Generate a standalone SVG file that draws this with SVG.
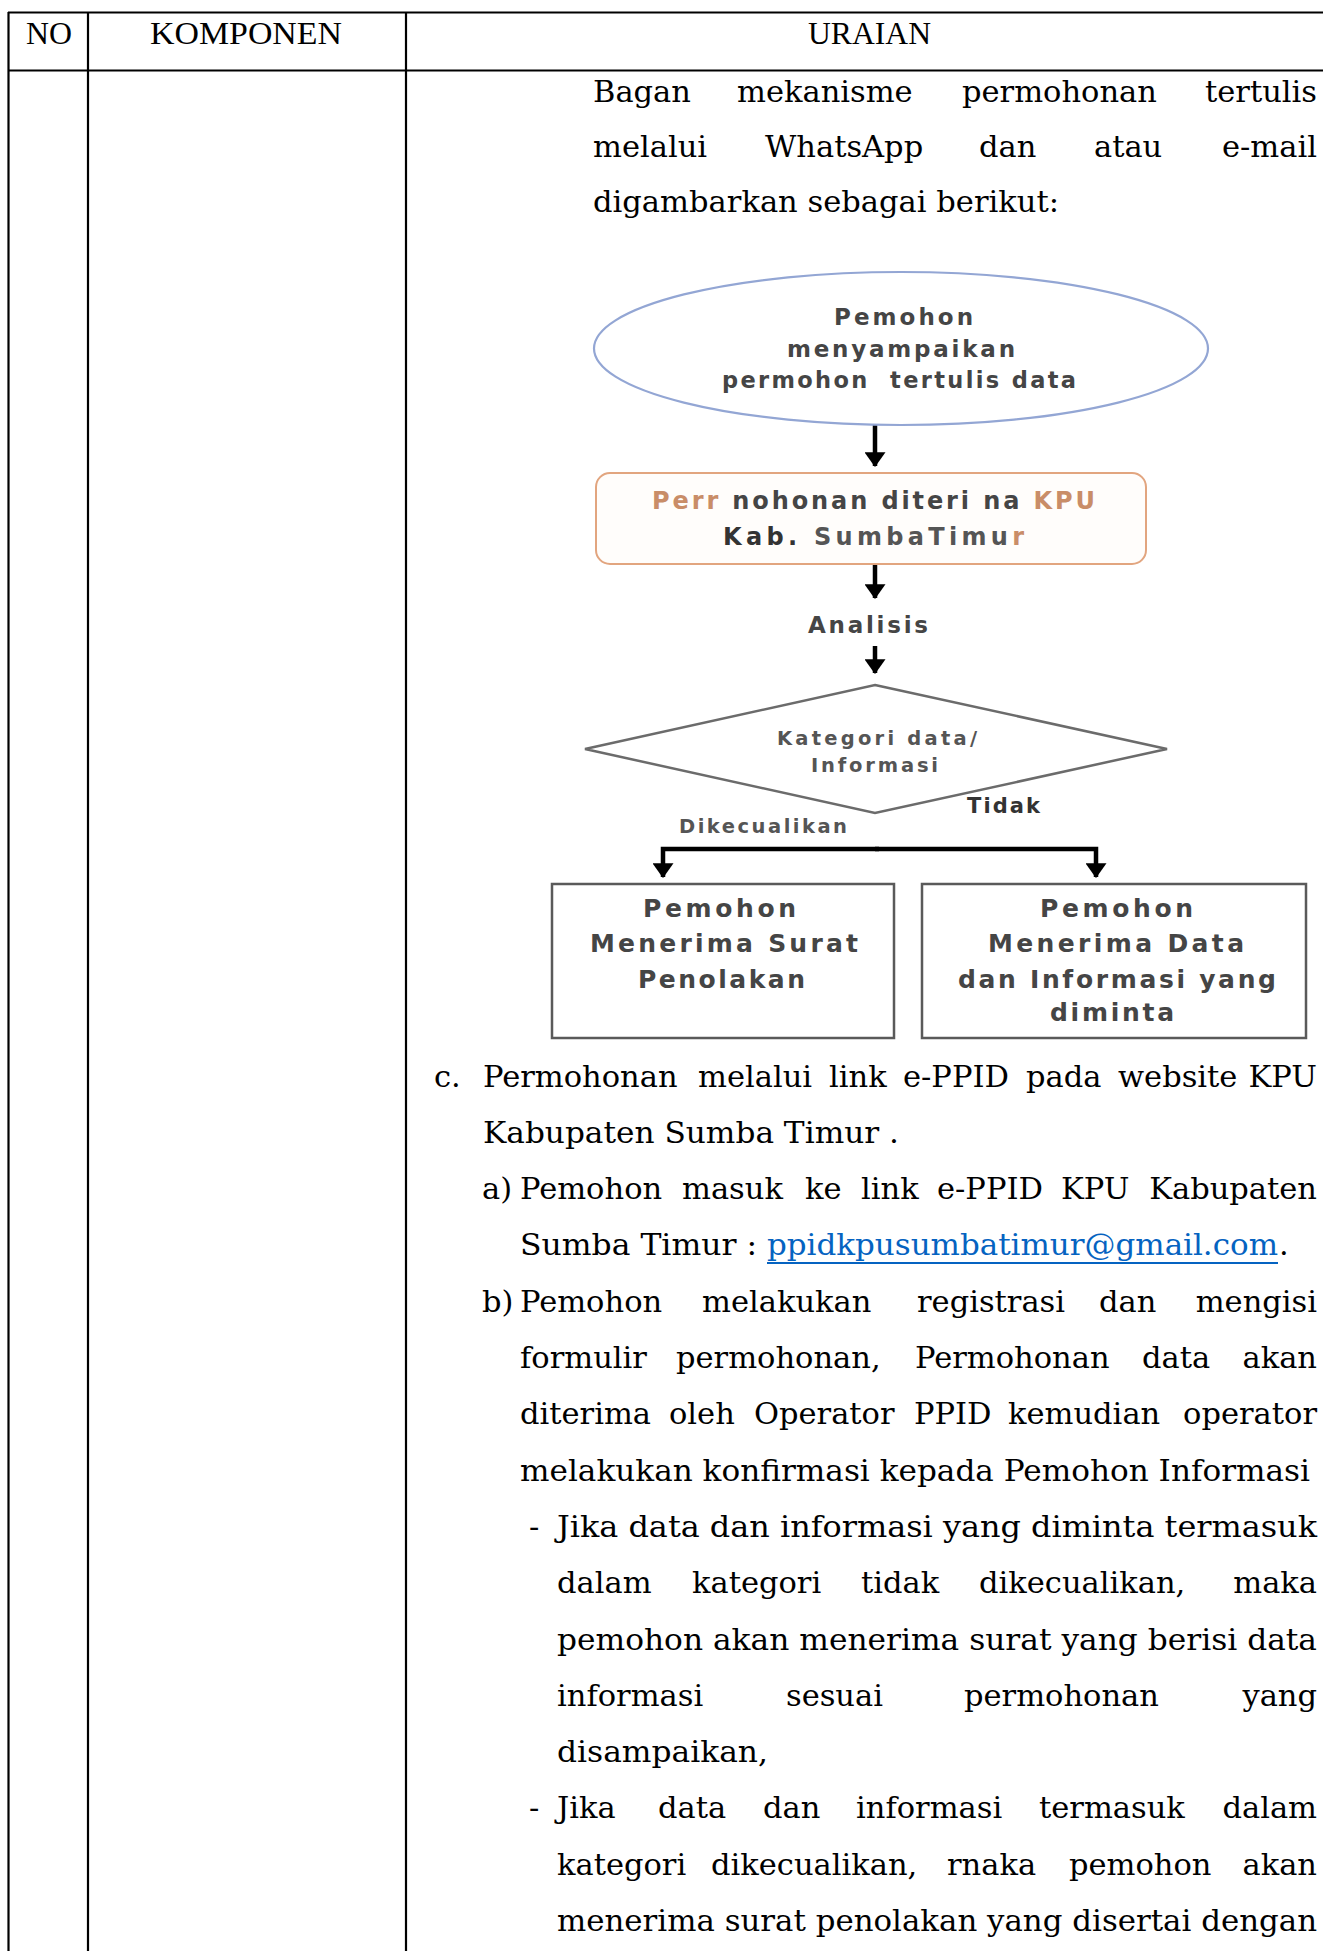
<svg xmlns="http://www.w3.org/2000/svg" width="1323" height="1951" viewBox="0 0 1323 1951">
<style>
.grid{stroke:#000;stroke-width:2.2;fill:none}
.hdr{font-family:"Liberation Serif","DejaVu Serif",serif;font-size:31px;fill:#000}
.body{font-family:"DejaVu Serif","Liberation Serif",serif;font-size:30.5px;fill:#000}
.end{text-anchor:end}
.link{fill:#0563c1}
.fc{font-family:"DejaVu Sans","Liberation Sans",sans-serif;font-weight:bold;fill:#454545}
.conn{stroke:#000;stroke-width:4.5;fill:none}
.box{fill:#fff;stroke:#5a5a5a;stroke-width:2.5}
</style>
<defs>
<marker id="ah" viewBox="0 0 14 20" refX="13" refY="10" markerWidth="15" markerHeight="21" markerUnits="userSpaceOnUse" orient="auto">
<path d="M0,0 L14,10 L0,20 Z" fill="#000"/>
</marker>
</defs>
<rect width="1323" height="1951" fill="#fff"/>

<g id="table">
<line class="grid" x1="8" y1="12.5" x2="1323" y2="12.5"/>
<line class="grid" x1="8" y1="70.5" x2="1323" y2="70.5"/>
<line class="grid" x1="8.5" y1="12" x2="8.5" y2="1951"/>
<line class="grid" x1="88" y1="12" x2="88" y2="1951"/>
<line class="grid" x1="406" y1="12" x2="406" y2="1951"/>
<text class="hdr" x="26" y="44" textLength="46" lengthAdjust="spacingAndGlyphs">NO</text>
<text class="hdr" x="150" y="44" textLength="192" lengthAdjust="spacingAndGlyphs">KOMPONEN</text>
<text class="hdr" x="808" y="44" textLength="123" lengthAdjust="spacingAndGlyphs">URAIAN</text>
</g>

<g id="intro">
<text class="body" y="102"><tspan x="593">Bagan</tspan><tspan x="737">mekanisme</tspan><tspan x="962">permohonan</tspan></text>
<text class="body end" x="1317" y="102">tertulis</text>
<text class="body" y="157"><tspan x="593">melalui</tspan><tspan x="765">WhatsApp</tspan><tspan x="979">dan</tspan><tspan x="1094">atau</tspan></text>
<text class="body end" x="1317" y="157">e-mail</text>
<text class="body" x="593" y="212" textLength="466" lengthAdjust="spacingAndGlyphs">digambarkan sebagai berikut:</text>
</g>

<g id="connectors">
<line class="conn" x1="875" y1="420" x2="875" y2="466" marker-end="url(#ah)"/>
<line class="conn" x1="875" y1="564" x2="875" y2="598" marker-end="url(#ah)"/>
<line class="conn" x1="875" y1="646" x2="875" y2="673" marker-end="url(#ah)"/>
<path class="conn" d="M879,849 H663 V877" marker-end="url(#ah)"/>
<path class="conn" d="M875,849 H1096 V877" marker-end="url(#ah)"/>
</g>

<g id="node-start">
<ellipse cx="901" cy="348.5" rx="307" ry="76.5" fill="#fff" stroke="#93a6d4" stroke-width="2.2"/>
<text class="fc" x="834" y="325" font-size="23" textLength="139" lengthAdjust="spacing">Pemohon</text>
<text class="fc" x="787" y="357" font-size="23" textLength="228" lengthAdjust="spacing">menyampaikan</text>
<text class="fc" x="722" y="388" font-size="22.5" textLength="354" lengthAdjust="spacing" xml:space="preserve">permohon  tertulis data</text>
</g>

<g id="node-received">
<rect x="596" y="473" width="550" height="91" rx="14" fill="#fffdfb" stroke="#e2a57f" stroke-width="2"/>
<text class="fc" x="652" y="509" font-size="24" textLength="443" lengthAdjust="spacing"><tspan fill="#c98d68">Perr</tspan> nohonan diteri na <tspan fill="#c98d68">KPU</tspan></text>
<text class="fc" x="723" y="545" font-size="24" textLength="301" lengthAdjust="spacing"><tspan fill="#333">Kab.</tspan> <tspan fill="#555">SumbaTimu</tspan><tspan fill="#c98d68">r</tspan></text>
</g>

<g id="node-analisis">
<text class="fc" x="808" y="633" font-size="23" textLength="120" lengthAdjust="spacing">Analisis</text>
</g>

<g id="node-decision">
<polygon points="875,685 1167,749 875,813 585,749" fill="#fff" stroke="#6b6b6b" stroke-width="2.5"/>
<text class="fc" x="777" y="745" font-size="19.5" textLength="200" lengthAdjust="spacing" style="fill:#555">Kategori data/</text>
<text class="fc" x="811" y="772" font-size="19.5" textLength="127" lengthAdjust="spacing" style="fill:#555">Informasi</text>
<text class="fc" x="967" y="813" font-size="21" textLength="73" lengthAdjust="spacing" style="fill:#333">Tidak</text>
<text class="fc" x="679" y="833" font-size="19.5" textLength="168" lengthAdjust="spacing" style="fill:#555">Dikecualikan</text>
</g>

<g id="node-reject">
<rect class="box" x="552" y="884" width="342" height="154"/>
<text class="fc" x="643" y="917" font-size="25" textLength="153" lengthAdjust="spacing">Pemohon</text>
<text class="fc" x="590" y="952" font-size="25" textLength="268" lengthAdjust="spacing">Menerima Surat</text>
<text class="fc" x="638" y="988" font-size="25" textLength="167" lengthAdjust="spacing">Penolakan</text>
</g>

<g id="node-accept">
<rect class="box" x="922" y="884" width="384" height="154"/>
<text class="fc" x="1040" y="917" font-size="25" textLength="153" lengthAdjust="spacing">Pemohon</text>
<text class="fc" x="988" y="952" font-size="25" textLength="256" lengthAdjust="spacing">Menerima Data</text>
<text class="fc" x="958" y="988" font-size="25" textLength="318" lengthAdjust="spacing">dan Informasi yang</text>
<text class="fc" x="1050" y="1021" font-size="25" textLength="124" lengthAdjust="spacing">diminta</text>
</g>

<g id="text-c">
<text class="body" x="434" y="1087">c.</text>
<text class="body" y="1087"><tspan x="483">Permohonan</tspan><tspan x="698">melalui</tspan><tspan x="829">link</tspan><tspan x="903">e-PPID</tspan><tspan x="1026">pada</tspan><tspan x="1118">website</tspan></text>
<text class="body end" x="1317" y="1087">KPU</text>
<text class="body" x="483" y="1143" textLength="416" lengthAdjust="spacingAndGlyphs">Kabupaten Sumba Timur .</text>

<text class="body" x="482" y="1199">a)</text>
<text class="body" y="1199"><tspan x="520">Pemohon</tspan><tspan x="682">masuk</tspan><tspan x="805">ke</tspan><tspan x="861">link</tspan><tspan x="937">e-PPID</tspan><tspan x="1061">KPU</tspan></text>
<text class="body end" x="1317" y="1199">Kabupaten</text>
<text class="body" x="520" y="1255" textLength="237" lengthAdjust="spacingAndGlyphs">Sumba Timur :</text>
<text class="body link" x="767" y="1255" textLength="511" lengthAdjust="spacingAndGlyphs">ppidkpusumbatimur@gmail.com</text>
<line x1="767" y1="1263" x2="1278" y2="1263" stroke="#0563c1" stroke-width="2"/>
<text class="body" x="1279" y="1255">.</text>

<text class="body" x="482" y="1312">b)</text>
<text class="body" y="1312"><tspan x="520">Pemohon</tspan><tspan x="702">melakukan</tspan><tspan x="917">registrasi</tspan><tspan x="1099">dan</tspan></text>
<text class="body end" x="1317" y="1312">mengisi</text>
<text class="body" y="1368"><tspan x="520">formulir</tspan><tspan x="676">permohonan,</tspan><tspan x="915">Permohonan</tspan><tspan x="1142">data</tspan></text>
<text class="body end" x="1317" y="1368">akan</text>
<text class="body" y="1424"><tspan x="520">diterima</tspan><tspan x="669">oleh</tspan><tspan x="754">Operator</tspan><tspan x="914">PPID</tspan><tspan x="1008">kemudian</tspan></text>
<text class="body end" x="1317" y="1424">operator</text>
<text class="body" x="520" y="1481" textLength="790" lengthAdjust="spacingAndGlyphs">melakukan konfirmasi kepada Pemohon Informasi</text>

<text class="body" x="529" y="1537">-</text>
<text class="body" x="557" y="1537" textLength="760" lengthAdjust="spacingAndGlyphs">Jika data dan informasi yang diminta termasuk</text>
<text class="body" y="1593"><tspan x="557">dalam</tspan><tspan x="692">kategori</tspan><tspan x="861">tidak</tspan><tspan x="979">dikecualikan,</tspan></text>
<text class="body end" x="1317" y="1593">maka</text>
<text class="body" x="557" y="1650" textLength="760" lengthAdjust="spacingAndGlyphs">pemohon akan menerima surat yang berisi data</text>
<text class="body" y="1706"><tspan x="557">informasi</tspan><tspan x="786">sesuai</tspan><tspan x="964">permohonan</tspan></text>
<text class="body end" x="1317" y="1706">yang</text>
<text class="body" x="557" y="1762" textLength="211" lengthAdjust="spacingAndGlyphs">disampaikan,</text>

<text class="body" x="529" y="1818">-</text>
<text class="body" y="1818"><tspan x="557">Jika</tspan><tspan x="658">data</tspan><tspan x="763">dan</tspan><tspan x="856">informasi</tspan><tspan x="1039">termasuk</tspan></text>
<text class="body end" x="1317" y="1818">dalam</text>
<text class="body" y="1875"><tspan x="557">kategori</tspan><tspan x="711">dikecualikan,</tspan><tspan x="947">rnaka</tspan><tspan x="1069">pemohon</tspan></text>
<text class="body end" x="1317" y="1875">akan</text>
<text class="body" x="557" y="1931" textLength="760" lengthAdjust="spacingAndGlyphs">menerima surat penolakan yang disertai dengan</text>
</g>
</svg>
